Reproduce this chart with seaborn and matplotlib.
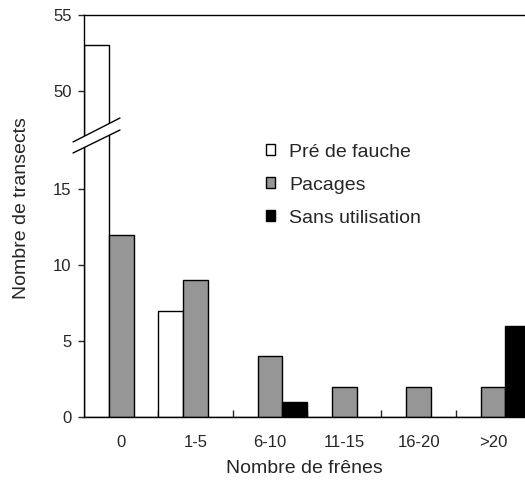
import matplotlib
matplotlib.use("Agg")
import matplotlib.pyplot as plt
import seaborn as sns
import pandas as pd
from matplotlib.patches import Patch, Polygon
from matplotlib.lines import Line2D

# data
categories = ["0", "1-5", "6-10", "11-15", "16-20", ">20"]
series = ["Pré de fauche", "Pacages", "Sans utilisation"]
pre_fauche = [53, 7, 0, 0, 0, 0]
pacages = [12, 9, 4, 2, 2, 2]
sans_util = [0, 0, 1, 0, 0, 6]
colors = ["white", "#969696", "black"]

df = pd.DataFrame({
    "classe": categories * 3,
    "usage": [series[0]] * 6 + [series[1]] * 6 + [series[2]] * 6,
    "n": pre_fauche + pacages + sans_util,
})

sns.set_style("white")
plt.rcParams["font.family"] = ["Liberation Sans", "DejaVu Sans"]

W, H = 525, 486
fig = plt.figure(figsize=(W / 100, H / 100), dpi=100)

# broken y axis: two stacked axes, same px per unit
left, right = 84 / W, 1.0
y0, ybreak, ytop = 417, 142, 15
ax_lo = fig.add_axes([left, 1 - y0 / H, right - left, (y0 - ybreak) / H])
ax_hi = fig.add_axes([left, 1 - ybreak / H, right - left, (ybreak - ytop) / H])

for ax in (ax_lo, ax_hi):
    sns.barplot(data=df, x="classe", y="n", hue="usage", order=categories,
                hue_order=series, palette=colors, width=1.0, edgecolor="black",
                linewidth=1.0, ax=ax, legend=False)
    ax.set_xlim(-0.5, 5.43)
    ax.set_xlabel("")
    ax.set_ylabel("")
    ax.spines["right"].set_visible(False)
    for s in ax.spines.values():
        s.set_linewidth(1.0)
        s.set_color("black")

ax_lo.set_ylim(0, (y0 - ybreak) / 15.2)
ax_hi.set_ylim(55 - (ybreak - ytop) / 15.2, 55)

ax_lo.spines["top"].set_visible(False)
ax_hi.spines["bottom"].set_visible(False)

ax_lo.set_yticks([0, 5, 10, 15])
ax_hi.set_yticks([50, 55])
for ax in (ax_lo, ax_hi):
    ax.tick_params(axis="y", direction="out", length=4, width=1, pad=5,
                   labelsize=12, left=True)

ax_lo.set_xticks(range(len(categories)))
ax_lo.set_xticklabels(categories)
ax_lo.tick_params(axis="x", length=0, pad=13, labelsize=12)
ax_lo.set_xticks([i + 0.5 for i in range(len(categories) - 1)], minor=True)
ax_lo.tick_params(axis="x", which="minor", direction="in", length=5, width=1,
                  bottom=True)
ax_hi.set_xticks([])

ax_lo.set_xlabel("Nombre de frênes", fontsize=14, labelpad=7)
fig.text(22 / W, 1 - 208 / H, "Nombre de transects", rotation=90,
         ha="center", va="center", fontsize=14)

# break marker
p1a, p1b = (73, 142), (120, 118)
p2a, p2b = (73, 153), (120, 130)
fx = lambda p: (p[0] / W, 1 - p[1] / H)
fig.add_artist(Polygon([fx(p1a), fx(p1b), fx(p2b), fx(p2a)], closed=True,
                       facecolor="white", edgecolor="none",
                       transform=fig.transFigure, zorder=10))
for a, b in ((p1a, p1b), (p2a, p2b)):
    fig.add_artist(Line2D([fx(a)[0], fx(b)[0]], [fx(a)[1], fx(b)[1]],
                          color="black", lw=1.0, transform=fig.transFigure,
                          zorder=11))

handles = [Patch(facecolor=c, edgecolor="black", linewidth=1.0) for c in colors]
fig.legend(handles, series, loc="upper left",
           bbox_to_anchor=(256 / W, 1 - 134 / H), frameon=False,
           fontsize=14, handlelength=0.47, handleheight=0.47,
           handletextpad=0.75, labelspacing=0.82, borderpad=0)

fig.savefig("out.png", dpi=100)
